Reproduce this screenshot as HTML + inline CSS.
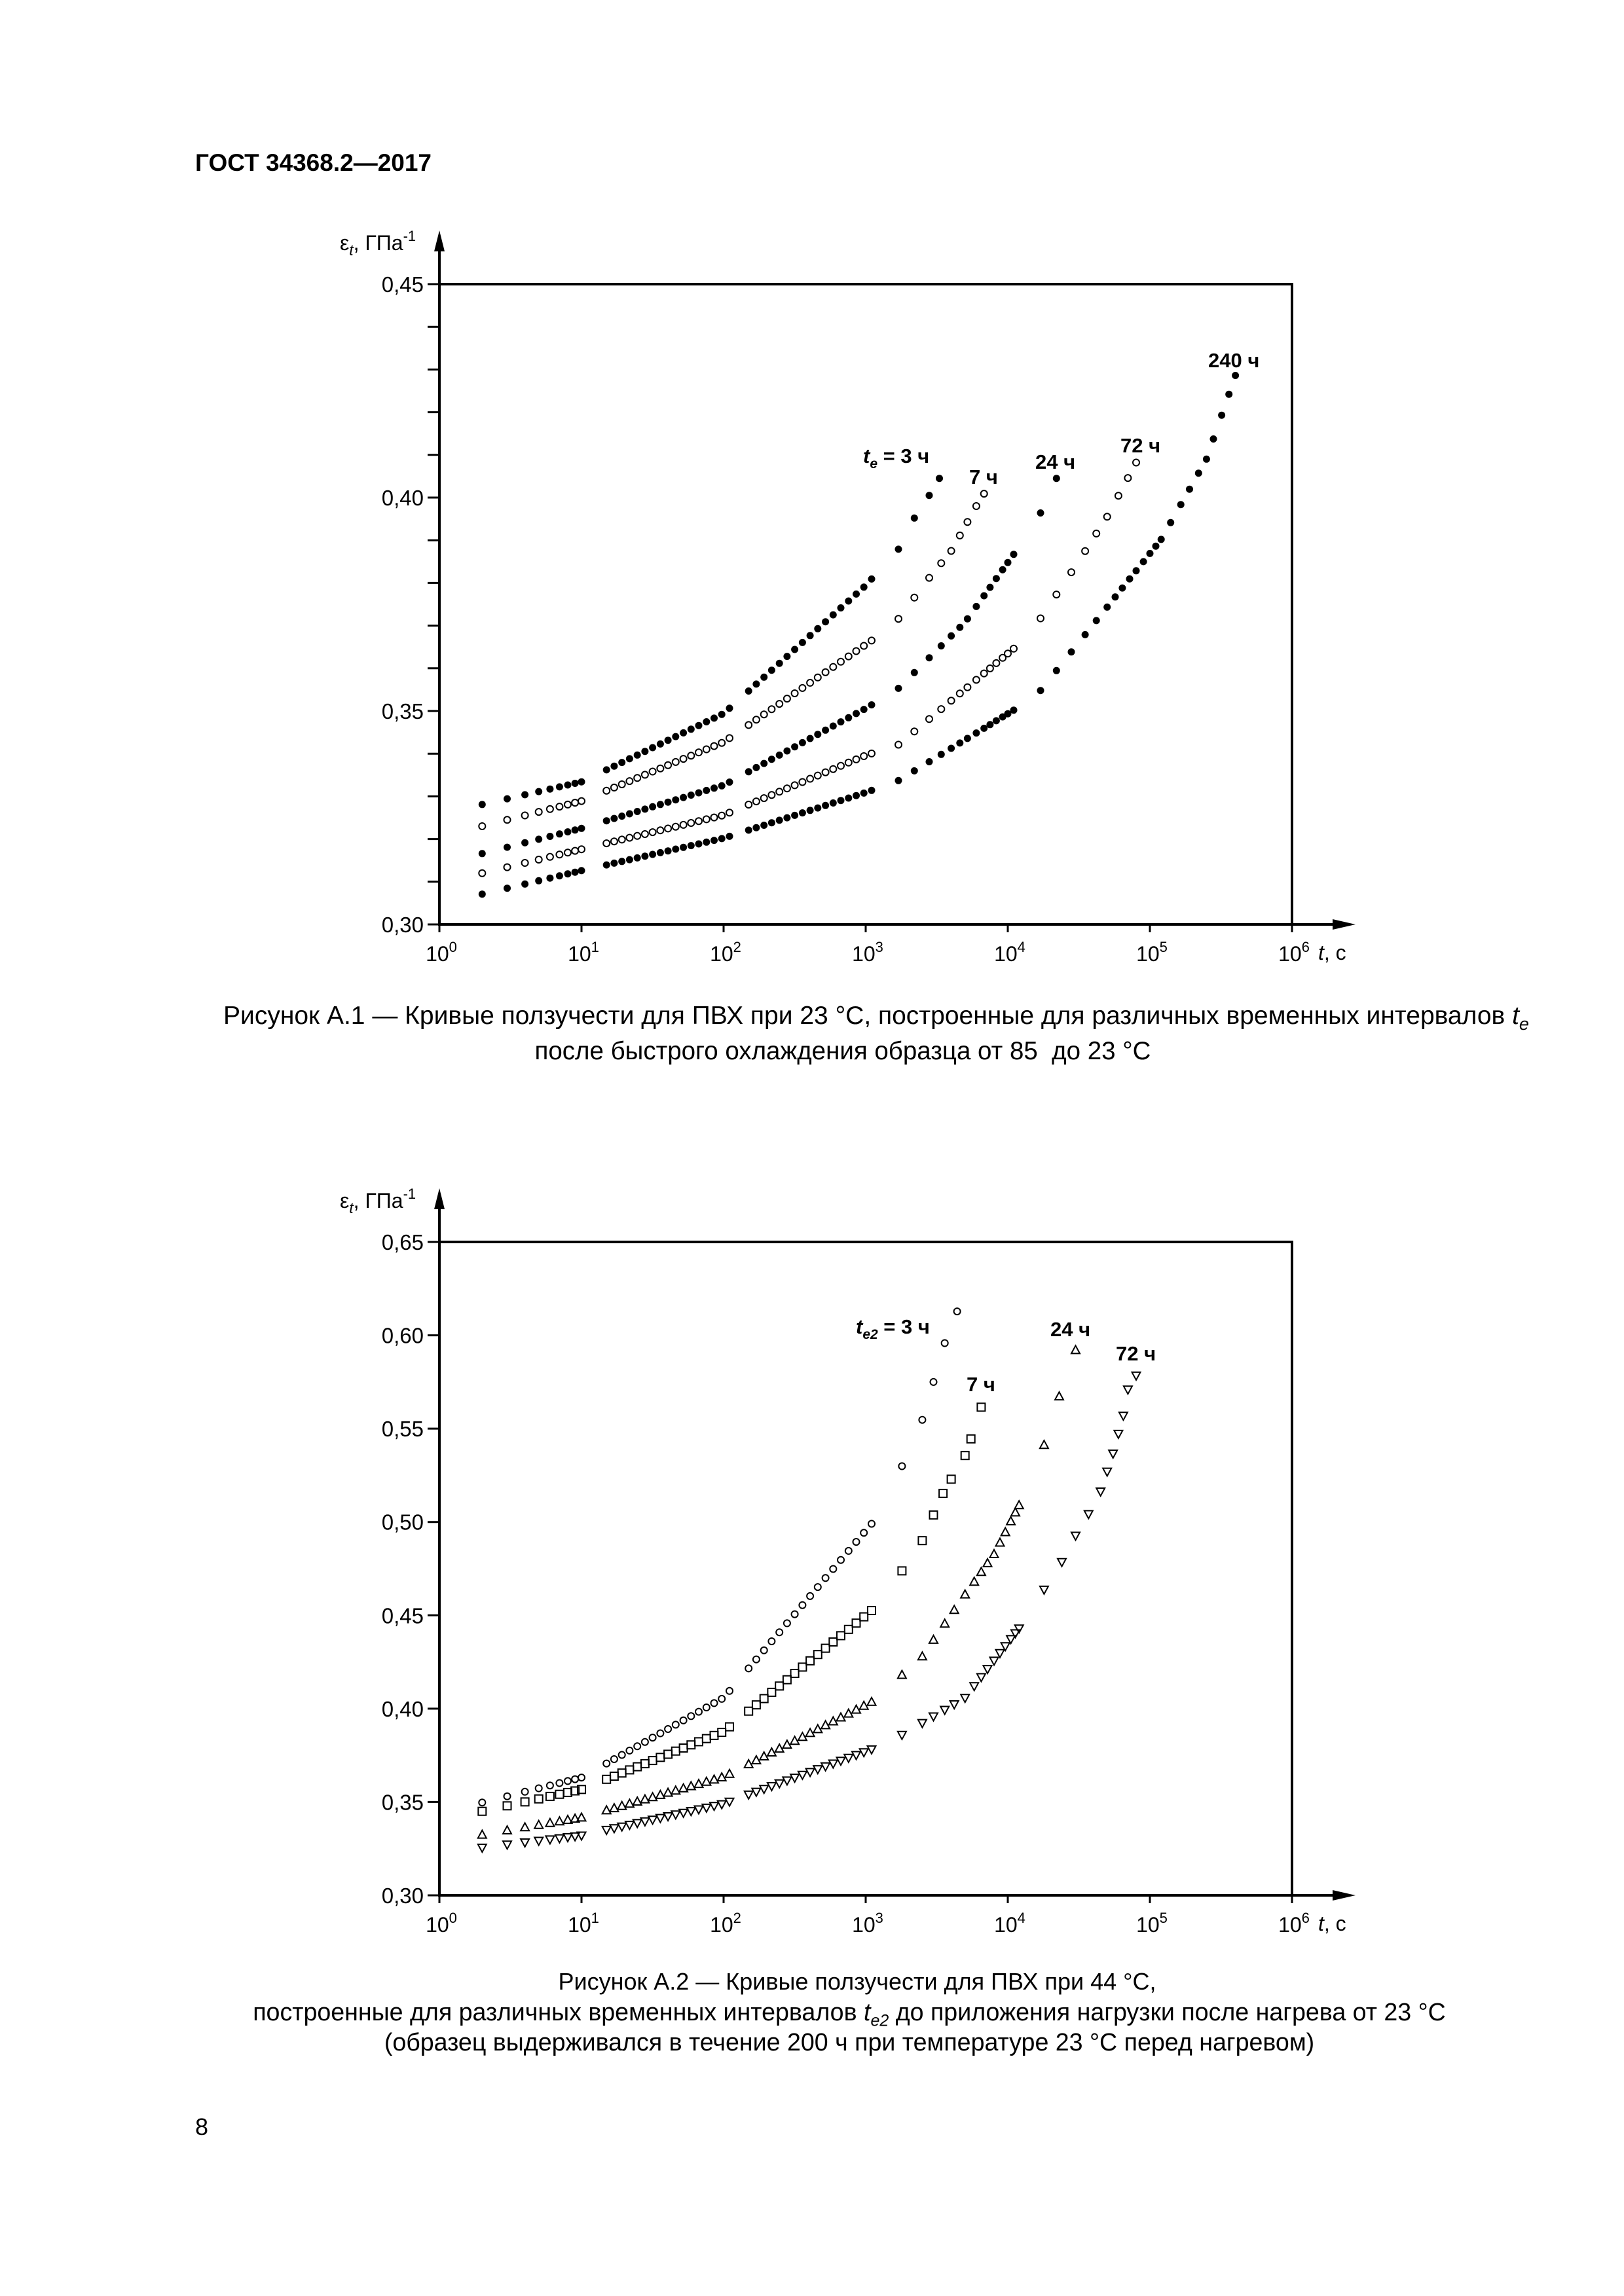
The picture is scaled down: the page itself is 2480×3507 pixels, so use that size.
<!DOCTYPE html>
<html><head><meta charset="utf-8">
<style>
html,body{margin:0;padding:0;background:#fff;}
body{width:2480px;height:3507px;position:relative;overflow:hidden;font-family:"Liberation Sans",sans-serif;color:#000;}
.t{position:absolute;white-space:nowrap;}
</style></head><body>
<div class="t" style="left:298px;top:228px;font-size:37px;font-weight:bold;">ГОСТ 34368.2—2017</div>
<div class="t" style="left:0;width:2676px;text-align:center;top:1530px;font-size:39px;">Рисунок А.1 — Кривые ползучести для ПВХ при 23 °С, построенные для различных временных интервалов <i>t</i><sub style="font-size:27px"><i>e</i></sub></div>
<div class="t" style="left:0;width:2574px;text-align:center;top:1584px;font-size:38.5px;">после быстрого охлаждения образца от 85&nbsp; до 23 °С</div>
<div class="t" style="left:0;width:2618px;text-align:center;top:3006px;font-size:36px;">Рисунок А.2 — Кривые ползучести для ПВХ при 44 °С,</div>
<div class="t" style="left:0;width:2594px;text-align:center;top:3052px;font-size:37.6px;">построенные для различных временных интервалов <i>t</i><sub style="font-size:25px"><i>e2</i></sub> до приложения нагрузки после нагрева от 23 °С</div>
<div class="t" style="left:0;width:2594px;text-align:center;top:3098px;font-size:37.6px;">(образец выдерживался в течение 200 ч при температуре 23 °С перед нагревом)</div>
<div class="t" style="left:298px;top:3228px;font-size:36px;">8</div>
<svg id="s" width="2480" height="3507" style="position:absolute;left:0;top:0" xmlns="http://www.w3.org/2000/svg"></svg>
<script>
var svg=document.getElementById('s'),out='';
var X0=671,XR=1973,DEC=(XR-X0)/6;
function lin(anch,lt){for(var i=0;i<anch.length-1;i++){var a=anch[i],b=anch[i+1];if(lt<=Math.log10(b[0])||i==anch.length-2){var la=Math.log10(a[0]),lb=Math.log10(b[0]);return a[1]+(b[1]-a[1])*(lt-la)/(lb-la);}}}
function ts(){var r=[2,3,4,5,6,7,8,9,10];
 for(var i=0;i<=16;i++)r.push(15*Math.pow(110/15,i/16));
 for(var i=0;i<=16;i++)r.push(150*Math.pow(1100/150,i/16));return r;}
function f(n){return n.toFixed(1);}
function marker(type,x,y){
 if(type=='f')return '<circle cx="'+f(x)+'" cy="'+f(y)+'" r="5.5" fill="#000"/>';
 if(type=='o')return '<circle cx="'+f(x)+'" cy="'+f(y)+'" r="5" fill="none" stroke="#000" stroke-width="2"/>';
 if(type=='s')return '<rect x="'+f(x-6)+'" y="'+f(y-6)+'" width="12" height="12" fill="none" stroke="#000" stroke-width="2"/>';
 if(type=='u')return '<polygon points="'+f(x)+','+f(y-7)+' '+f(x-6.5)+','+f(y+5)+' '+f(x+6.5)+','+f(y+5)+'" fill="none" stroke="#000" stroke-width="2"/>';
 if(type=='d')return '<polygon points="'+f(x)+','+f(y+7)+' '+f(x-6.5)+','+f(y-5)+' '+f(x+6.5)+','+f(y-5)+'" fill="none" stroke="#000" stroke-width="2"/>';}
function chart(Y0,YT,vmin,vmax,step,minor,series,tlabels){
 var yv=function(v){return Y0-(v-vmin)/(vmax-vmin)*(Y0-YT);};
 var F='font-family="Liberation Sans, sans-serif"';
 out+='<rect x="'+X0+'" y="'+YT+'" width="'+(XR-X0)+'" height="'+(Y0-YT)+'" fill="none" stroke="#000" stroke-width="4"/>';
 out+='<line x1="'+X0+'" y1="'+Y0+'" x2="'+X0+'" y2="'+(YT-55)+'" stroke="#000" stroke-width="4"/>';
 out+='<polygon points="'+X0+','+(YT-82)+' '+(X0-8)+','+(YT-50)+' '+(X0+8)+','+(YT-50)+'" fill="#000"/>';
 out+='<line x1="'+X0+'" y1="'+Y0+'" x2="'+(XR+65)+'" y2="'+Y0+'" stroke="#000" stroke-width="4"/>';
 out+='<polygon points="'+(XR+97)+','+Y0+' '+(XR+62)+','+(Y0-8)+' '+(XR+62)+','+(Y0+8)+'" fill="#000"/>';
 var n=Math.round((vmax-vmin)/minor);
 for(var i=0;i<=n;i++){var v=vmin+i*minor,y=yv(v);out+='<line x1="'+(X0-18)+'" y1="'+y+'" x2="'+X0+'" y2="'+y+'" stroke="#000" stroke-width="3"/>';}
 for(var v=vmin;v<=vmax+1e-9;v+=step){var y=yv(v);out+='<text x="'+(X0-24)+'" y="'+(y+12)+'" text-anchor="end" font-size="33" '+F+'>'+v.toFixed(2).replace('.',',')+'</text>';}
 for(var k=0;k<=6;k++){var x=X0+k*DEC;out+='<line x1="'+x+'" y1="'+Y0+'" x2="'+x+'" y2="'+(Y0+12)+'" stroke="#000" stroke-width="3"/>';
  out+='<text x="'+(x+3)+'" y="'+(Y0+56)+'" text-anchor="middle" font-size="32" '+F+'>10<tspan dy="-14" font-size="22">'+k+'</tspan></text>';}
 out+='<text x="'+(XR+40)+'" y="'+(Y0+54)+'" font-size="32" '+F+'><tspan font-style="italic">t</tspan>, с</text>';
 out+='<text x="'+(X0-152)+'" y="'+(YT-52)+'" font-size="32" '+F+'>ε<tspan font-style="italic" font-size="23" dy="8">t</tspan><tspan dy="-8">, ГПа</tspan><tspan dy="-14" font-size="22">-1</tspan></text>';
 series.forEach(function(s){var t=ts().concat(s.extra);
  t.forEach(function(tt){var lt=Math.log10(tt);var v=lin(s.a,lt);out+=marker(s.m,X0+lt*DEC,yv(v));});});
 tlabels.forEach(function(l){out+='<text x="'+l[0]+'" y="'+l[1]+'" font-size="31" font-weight="bold" '+F+'>'+l[2]+'</text>';});
}
chart(1412,434,0.30,0.45,0.05,0.01,[
 {m:'f',a:[[2,.3281],[10,.3334],[100,.3494],[1000,.3794],[1700,.3879],[2200,.3952],[2800,.4005],[3300,.4045]],extra:[1700,2200,2800,3300]},
 {m:'o',a:[[2,.323],[10,.3289],[100,.3427],[1100,.3665],[1700,.3716],[2800,.3812],[4000,.3875],[6000,.398],[6800,.4009]],extra:[1700,2200,2800,3400,4000,4600,5200,6000,6800]},
 {m:'f',a:[[2,.3166],[10,.3225],[100,.3326],[1000,.3506],[1700,.3553],[5000,.3708],[11000,.3867],[17000,.3964],[22000,.4045]],extra:[1700,2200,2800,3400,4000,4600,5200,6000,6800,7500,8300,9200,10000,11000,17000,22000]},
 {m:'o',a:[[2,.312],[10,.3176],[100,.3256],[1000,.3396],[1700,.3421],[11000,.3646],[17000,.3717],[30000,.384],[50000,.3955],[80000,.4082]],extra:[1700,2200,2800,3400,4000,4600,5200,6000,6800,7500,8300,9200,10000,11000,17000,22000,28000,35000,42000,50000,60000,70000,80000]},
 {m:'f',a:[[2,.3071],[10,.3126],[100,.3202],[1000,.3309],[1700,.3337],[11000,.3502],[17000,.3548],[120000,.3902],[250000,.409],[400000,.4286]],extra:[1700,2200,2800,3400,4000,4600,5200,6000,6800,7500,8300,9200,10000,11000,17000,22000,28000,35000,42000,50000,57000,64000,72000,80000,90000,100000,110000,120000,140000,165000,190000,220000,250000,280000,320000,360000,400000]}
],[[1318,707,'<tspan font-style="italic">t</tspan><tspan font-style="italic" font-size="21" dy="8">e</tspan><tspan dy="-8"> = 3 ч</tspan>'],[1480,739,'7 ч'],[1581,716,'24 ч'],[1711,691,'72 ч'],[1845,561,'240 ч']]);
chart(2895,1897,0.30,0.65,0.05,0.05,[
 {m:'o',a:[[2,.3497],[10,.3631],[100,.4058],[1200,.5024],[1800,.5299],[2500,.5547],[3000,.575],[3600,.5958],[4400,.6128]],extra:[1800,2500,3000,3600,4400]},
 {m:'s',a:[[2,.345],[10,.3567],[100,.3877],[1200,.4549],[1800,.4738],[2500,.49],[3500,.5153],[5000,.5356],[5500,.5445],[6500,.5615]],extra:[1800,2500,3000,3500,4000,5000,5500,6500]},
 {m:'u',a:[[2,.3324],[10,.3416],[100,.3634],[1200,.405],[1800,.418],[2500,.4279],[3000,.4368],[5000,.4611],[8000,.4827],[12000,.5089],[18000,.5412],[23000,.5672],[30000,.592]],extra:[1800,2500,3000,3600,4200,5000,5800,6500,7200,8000,8800,9600,10500,11300,12000,18000,23000,30000]},
 {m:'d',a:[[2,.3256],[10,.3321],[100,.3491],[1200,.3793],[1800,.386],[5000,.4058],[12000,.443],[18000,.4638],[24000,.4786],[30000,.4927],[37000,.5043],[45000,.5164],[55000,.5367],[65000,.557],[70000,.571],[80000,.5785]],extra:[1800,2500,3000,3600,4200,5000,5800,6500,7200,8000,8800,9600,10500,11300,12000,18000,24000,30000,37000,45000,50000,55000,60000,65000,70000,80000]}
],[[1307,2037,'<tspan font-style="italic">t</tspan><tspan font-style="italic" font-size="21" dy="8">e2</tspan><tspan dy="-8"> = 3 ч</tspan>'],[1476,2125,'7 ч'],[1604,2041,'24 ч'],[1704,2078,'72 ч']]);
svg.innerHTML=out;
</script>
</body></html>
